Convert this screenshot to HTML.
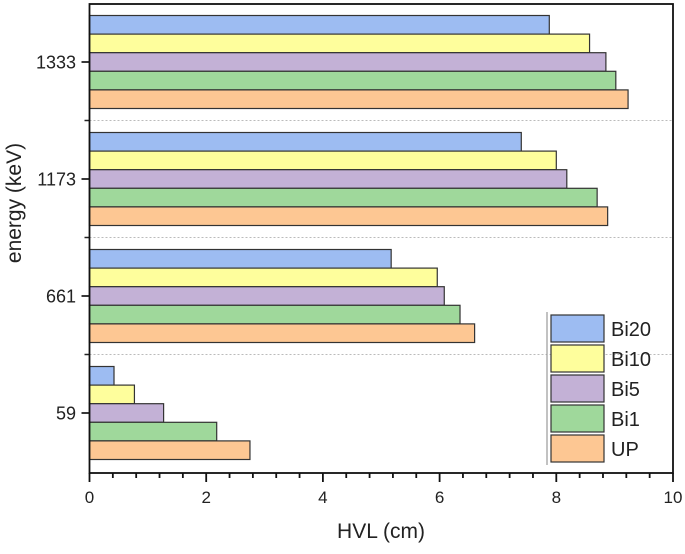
<!DOCTYPE html>
<html><head><meta charset="utf-8"><style>
body{margin:0;background:#fff}
svg text{font-family:"Liberation Sans",Arial,sans-serif;fill:#222}
</style></head><body>
<svg id="chart" width="685" height="549" viewBox="0 0 685 549">
<g id="plot"></g>
</svg>
<script>
const categories = ["59","661","1173","1333"];
const seriesNames = ["Bi20","Bi10","Bi5","Bi1","UP"];
const Bi20 = [0.42, 5.17, 7.40, 7.88];
const Bi10 = [0.77, 5.96, 8.00, 8.57];
const Bi5  = [1.27, 6.08, 8.18, 8.85];
const Bi1  = [2.18, 6.35, 8.70, 9.02];
const UP   = [2.75, 6.60, 8.88, 9.23];
const xTicks = [0,2,4,6,8,10];
const colors = ["#9dbcf2","#fefe9c","#c3b1d6","#9fd89b","#fdc793"];
const series = [Bi20,Bi10,Bi5,Bi1,UP];

const L=89.5,R=673,T=4,B=473;
const xMax=10;
const xs = v => L + v/xMax*(R-L);
const catC = i => 413 - i*117;
const barH = 18.6;
const NS="http://www.w3.org/2000/svg";
const g=document.getElementById('plot');
function el(tag,attrs,parent){const e=document.createElementNS(NS,tag);for(const k in attrs)e.setAttribute(k,attrs[k]);(parent||g).appendChild(e);return e;}

for(let i=0;i<categories.length-1;i++){
  const y=(catC(i)+catC(i+1))/2;
  const s=el('line',{x1:L,x2:R,y1:y,y2:y,stroke:'#bbb','stroke-width':1,'stroke-dasharray':'2,2'});
  
  
  const t=el('line',{x1:L-5,x2:L,y1:y,y2:y,stroke:'#222','stroke-width':1.5});
  
  
}
categories.forEach((c,i)=>{
  const top=catC(i)-2.5*barH;
  series.forEach((arr,j)=>{
    const r=el('rect',{x:L,y:top+j*barH,width:xs(arr[i])-L,height:barH,fill:colors[j],stroke:'#333','stroke-width':1.2});
    
    
  });
  const tk=el('line',{x1:L-8,x2:L,y1:catC(i),y2:catC(i),stroke:'#222','stroke-width':1.8});
  
  
  const tl=el('text',{x:76,y:catC(i)+6.5,'text-anchor':'end','font-size':18});
  tl.textContent=c;
  
  
});
const fr=el('rect',{x:L,y:T,width:R-L,height:B-T,fill:'none',stroke:'#111','stroke-width':1.8});


for(let v=0;v<=xMax+1e-9;v+=0.4){
  const major=Math.abs(v/2-Math.round(v/2))<1e-6;
  const m=el('line',{x1:xs(v),x2:xs(v),y1:B,y2:B+(major?9:5),stroke:'#111','stroke-width':1.8});
  
  
}
xTicks.forEach(v=>{
  const t=el('text',{x:xs(v),y:503,'text-anchor':'middle','font-size':17});
  t.textContent=String(v);
  
  
});
const xt=el('text',{x:381,y:538,'text-anchor':'middle','font-size':21});
xt.textContent='HVL (cm)';


const yt=el('text',{x:0,y:0,'text-anchor':'middle','font-size':21,transform:'translate(21,203) rotate(-90)'});
yt.textContent='energy (keV)';


const lg=el('g',{});


const vl=el('line',{x1:547,x2:547,y1:312,y2:465,stroke:'#999','stroke-width':1.2},lg);


seriesNames.forEach((n,j)=>{
  const y=315+j*30;
  const r=el('rect',{x:551,y:y,width:53,height:27,fill:colors[j],stroke:'#333','stroke-width':1.2},lg);
  
  
  const t=el('text',{x:611,y:y+21,'font-size':20},lg);
  t.textContent=n;
  
  
});
</script>
</body></html>
